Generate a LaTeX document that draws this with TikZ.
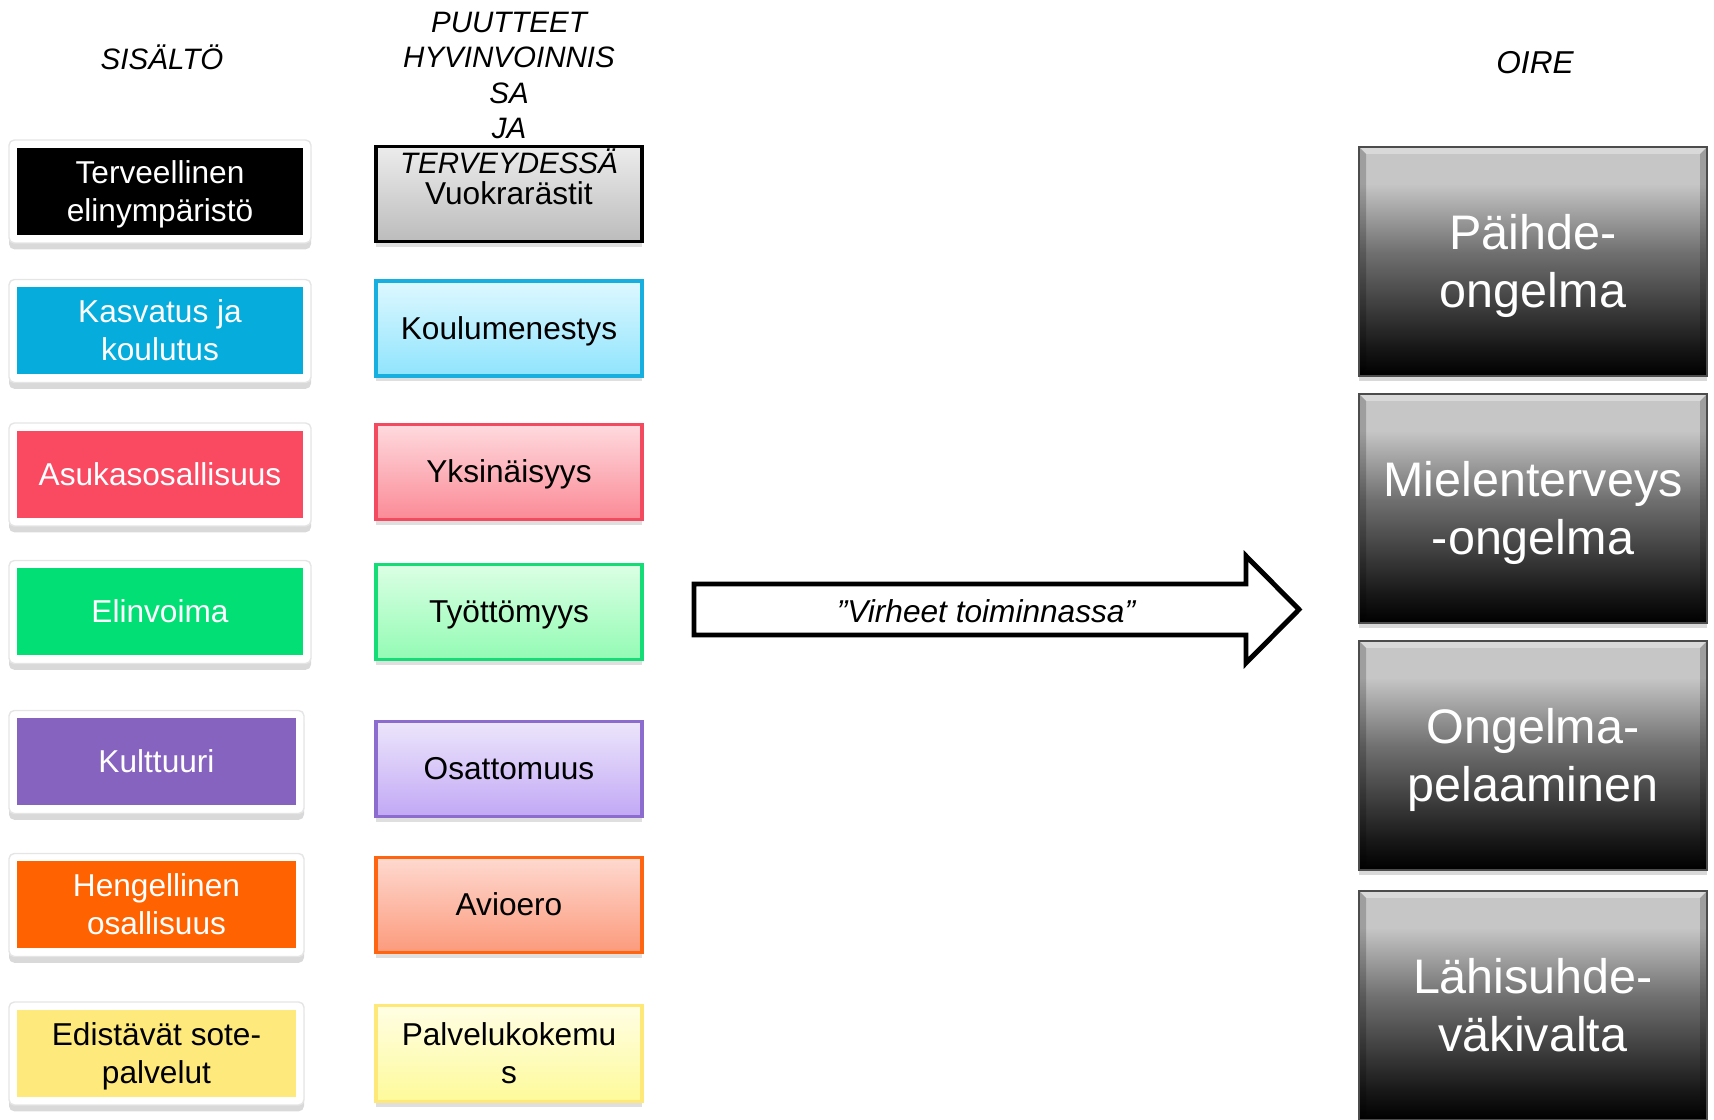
\documentclass[tikz,border=0pt]{standalone}
\usepackage{fontspec}
\setmainfont{Liberation Sans}
\usetikzlibrary{positioning, shadows}

\definecolor{kasvatus}{HTML}{06ACDC}
\definecolor{asukas}{HTML}{F94A62}
\definecolor{elinvoima}{HTML}{02DF75}
\definecolor{kulttuuri}{HTML}{8763C0}
\definecolor{hengell}{HTML}{FF6301}
\definecolor{sote}{HTML}{FEE97C}
\definecolor{oiretop}{HTML}{C6C6C6}
\definecolor{oiremid}{HTML}{707070}
\definecolor{oirebot}{HTML}{161616}

\pgfdeclareverticalshading{oireshade}{100bp}{color(0bp)=(black); color(25bp)=(black);
  color(31bp)=(oirebot); color(52bp)=(oiremid); color(67bp)=(oiretop); color(100bp)=(oiretop)}

\tikzset{
  yksi/.style={text height=8.15pt, text depth=1.9pt},
  kaksi/.style={text height=18.95pt, text depth=1.9pt},
  sis/.style={rectangle, fill=white, draw=black!10, line width=.4pt, rounded corners=1.5pt,
    drop shadow={shadow xshift=0pt, shadow yshift=-1.8pt, opacity=.3},
    minimum width=3.02cm, minimum height=1.03cm, align=center, text=white,
    font=\fontsize{9}{10.8}\selectfont,
    path picture={\fill[#1, sharp corners]
      ([shift={(.08,.08)}]path picture bounding box.south west) rectangle
      ([shift={(-.08,-.08)}]path picture bounding box.north east);}},
  puute/.style n args={3}{rectangle, draw=#1, line width=.9pt, top color=#2, bottom color=#3,
    minimum width=2.66cm, minimum height=.95cm, align=center,
    font=\fontsize{9}{10.8}\selectfont,
    drop shadow={shadow xshift=0pt, shadow yshift=-1.5pt, opacity=.25}},
  oire/.style={rectangle, shading=oireshade, draw=gray!60!black, line width=.5pt,
    minimum width=3.48cm, minimum height=2.29cm, align=center, text=white,
    font=\fontsize{13.8}{16.5}\selectfont, text height=29pt, text depth=2.93pt,
    drop shadow={shadow xshift=0pt, shadow yshift=-1.5pt, opacity=.3},
    path picture={
      \fill[white, opacity=.35] (path picture bounding box.north west) -- (path picture bounding box.north east)
        -- ++(-.07,-.07) -| ([shift={(.07,-.07)}]path picture bounding box.north west) -- cycle;
      \fill[black, opacity=.2] (path picture bounding box.north west) -- (path picture bounding box.south west)
        -- ++(.07,.07) |- ([shift={(.07,-.07)}]path picture bounding box.north west) -- cycle;
      \fill[black, opacity=.2] (path picture bounding box.north east) -- (path picture bounding box.south east)
        -- ++(-.07,.07) |- ([shift={(-.07,-.07)}]path picture bounding box.north east) -- cycle;}},
  otsikko/.style={align=center, font=\fontsize{8.4}{10.1}\selectfont\itshape},
}

\definecolor{p1t}{HTML}{ECECEC}\definecolor{p1b}{HTML}{BCBCBC}
\definecolor{p2t}{HTML}{DEF8FF}\definecolor{p2b}{HTML}{8FE4FD}\definecolor{p2r}{HTML}{17AEE0}
\definecolor{p3t}{HTML}{FEDADE}\definecolor{p3b}{HTML}{FB8A96}\definecolor{p3r}{HTML}{F44A60}
\definecolor{p4t}{HTML}{DBFFE4}\definecolor{p4b}{HTML}{93FBB4}\definecolor{p4r}{HTML}{14DC76}
\definecolor{p5t}{HTML}{ECE6FB}\definecolor{p5b}{HTML}{C2A8F5}\definecolor{p5r}{HTML}{8D6CD0}
\definecolor{p6t}{HTML}{FED9D0}\definecolor{p6b}{HTML}{FC9A7C}\definecolor{p6r}{HTML}{FF6410}
\definecolor{p7t}{HTML}{FFFEE4}\definecolor{p7b}{HTML}{FEFA9A}\definecolor{p7r}{HTML}{FDE878}

\begin{document}
\begin{tikzpicture}[node distance=1.4cm, on grid]
  \useasboundingbox (0,0) rectangle (17.14,11.2);
  % Sisalto
  \node[sis=black, kaksi] (s1) at (1.60,9.285) {Terveellinen\\elinympäristö};
  \node[sis=kasvatus, kaksi] (s2) [below=1.395cm of s1] {Kasvatus ja\\koulutus};
  \node[sis=asukas, yksi] (s3) [below=1.435cm of s2] {Asukasosallisuus};
  \node[sis=elinvoima, yksi] (s4) [below=1.375cm of s3] {Elinvoima};
  \node[sis=kulttuuri, yksi, minimum width=2.95cm, xshift=-.035cm] (s5) [below=1.5cm of s4] {Kulttuuri};
  \node[sis=hengell, kaksi, minimum width=2.95cm] (s6) [below=1.43cm of s5] {Hengellinen\\osallisuus};
  \node[sis=sote, kaksi, minimum width=2.95cm, text=black] (s7) [below=1.485cm of s6] {Edistävät sote-\\palvelut};
  % Puutteet
  \node[puute={black}{p1t}{p1b}, yksi, yshift=-.025cm] (p1) [right=3.49cm of s1] {Vuokrarästit};
  \node[puute={p2r}{p2t}{p2b}, yksi, yshift=.025cm] (p2) [right=3.49cm of s2] {Koulumenestys};
  \node[puute={p3r}{p3t}{p3b}, yksi, yshift=.025cm] (p3) [right=3.49cm of s3] {Yksinäisyys};
  \node[puute={p4r}{p4t}{p4b}, yksi] (p4) [right=3.49cm of s4] {Työttömyys};
  \node[puute={p5r}{p5t}{p5b}, yksi, yshift=-.07cm] (p5) [right=3.525cm of s5] {Osattomuus};
  \node[puute={p6r}{p6t}{p6b}, yksi] (p6) [right=3.525cm of s6] {Avioero};
  \node[puute={p7r}{p7t}{p7b}, kaksi] (p7) [right=3.525cm of s7] {Palvelukokemu\\s};
  % Oire
  \node[oire] (o1) at (15.33,8.585) {Päihde-\\ongelma};
  \node[oire] (o2) [below=2.47cm of o1] {Mielenterveys\\-ongelma};
  \node[oire] (o3) [below=2.47cm of o2] {Ongelma-\\pelaaminen};
  \node[oire] (o4) [below=2.5cm of o3] {Lähisuhde-\\väkivalta};
  % Otsikot
  \node[otsikko] (hs) at (1.62,10.63) {SISÄLTÖ};
  \node[otsikko] (hp) at (5.09,10.27) {PUUTTEET\\HYVINVOINNIS\\SA\\JA\\TERVEYDESSÄ};
  \node[otsikko, font=\fontsize{9}{10.8}\selectfont\itshape] (ho) at (15.35,10.57) {OIRE};
  % Nuoli
  \draw[line width=1.4pt, fill=white, line join=miter]
    (6.94,5.36) -- (12.46,5.36) -- (12.46,5.64) -- (12.99,5.105)
    -- (12.46,4.57) -- (12.46,4.85) -- (6.94,4.85) -- cycle;
  \node[font=\fontsize{9}{10.8}\selectfont\itshape] (virhe) at (9.86,5.09) {”Virheet toiminnassa”};
\end{tikzpicture}
\end{document}
